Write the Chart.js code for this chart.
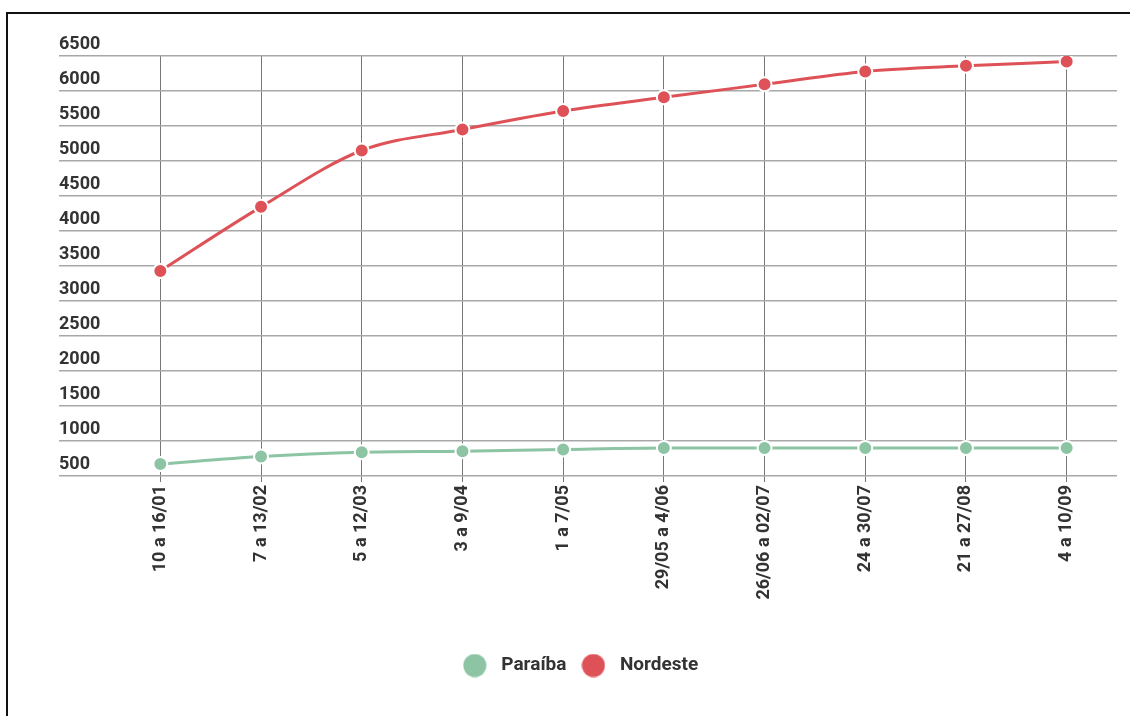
<!DOCTYPE html>
<html>
<head>
<meta charset="utf-8">
<script src="https://cdn.jsdelivr.net/npm/chart.js@4"></script>
<style>
  html, body { margin: 0; padding: 0; background: #fff; overflow: hidden; }
  #frame { position: absolute; left: 6px; top: 12px; width: 1300px; height: 900px; border: 2px solid #111; }
  #wrap { position: absolute; left: 0; top: 0; width: 1130px; height: 716px; }
</style>
</head>
<body>
<div id="frame"></div>
<div id="wrap"><canvas id="chart"></canvas></div>
<script>
// semanas
const weeks = ['10 a 16/01', '7 a 13/02', '5 a 12/03', '3 a 9/04', '1 a 7/05',
  '29/05 a 4/06', '26/06 a 02/07', '24 a 30/07', '21 a 27/08', '4 a 10/09'];

const paraiba = [670, 780, 840, 855, 880, 900, 900, 900, 900, 900];
const nordeste = [3430, 4345, 5150, 5450, 5715, 5910, 6095, 6280, 6360, 6420];

const yMin = 500, yMax = 6500, yStep = 500;

const green = '#8cc4a4';
const red = '#dd5157';
const textColor = '#333';

// round markers for the legend
function dot(color) {
  const c = document.createElement('canvas');
  c.width = 24; c.height = 24;
  const g = c.getContext('2d');
  g.fillStyle = color;
  g.beginPath();
  g.arc(12, 12, 11.5, 0, Math.PI * 2);
  g.fill();
  return c;
}
const legendDots = [dot(green), dot(red)];

// legend sits a bit left of the plot centre in the original
const legendShift = {
  id: 'legendShift',
  afterLayout: function(chart) {
    if (chart.legend) chart.legend.left -= 20;
  }
};

Chart.defaults.font.family = 'Roboto, "Noto Sans", sans-serif';

const ctx = document.getElementById('chart').getContext('2d');

new Chart(ctx, {
  type: 'line',
  data: {
    labels: weeks,
    datasets: [
      {
        label: 'Paraíba',
        data: paraiba,
        borderColor: green,
        backgroundColor: green,
        pointBackgroundColor: green,
        pointBorderColor: '#fff',
        pointBorderWidth: 2,
        pointRadius: 7,
        borderWidth: 3,
        cubicInterpolationMode: 'monotone'
      },
      {
        label: 'Nordeste',
        data: nordeste,
        borderColor: red,
        backgroundColor: red,
        pointBackgroundColor: red,
        pointBorderColor: '#fff',
        pointBorderWidth: 2,
        pointRadius: 7,
        borderWidth: 3,
        cubicInterpolationMode: 'monotone'
      }
    ]
  },
  plugins: [legendShift],
  options: {
    responsive: true,
    maintainAspectRatio: false,
    animation: false,
    layout: { padding: { left: 59, right: 13, top: 56, bottom: 31 } },
    plugins: {
      tooltip: { enabled: false },
      legend: {
        position: 'bottom',
        labels: {
          usePointStyle: true,
          pointStyleWidth: 34,
          color: textColor,
          font: { size: 19, weight: 'bold' },
          padding: 10,
          generateLabels: function(chart) {
            const items = Chart.defaults.plugins.legend.labels.generateLabels(chart);
            items.forEach(function(it, i) { it.pointStyle = legendDots[i]; });
            return items;
          }
        }
      }
    },
    scales: {
      x: {
        offset: true,
        border: { display: false },
        grid: { offset: false, color: '#777', lineWidth: 1, tickLength: 6 },
        ticks: {
          minRotation: 90,
          maxRotation: 90,
          padding: 3,
          color: textColor,
          font: { size: 18, weight: 'bold' }
        },
        afterFit: function(scale) {
          scale.height = 170;
          scale.paddingLeft = 0;
          scale.paddingRight = 0;
        }
      },
      y: {
        min: yMin,
        max: yMax,
        border: { display: false },
        grid: { color: '#a8a8a8', lineWidth: 1.5, tickLength: 51 },
        ticks: {
          stepSize: yStep,
          crossAlign: 'far',
          labelOffset: -12,
          padding: 0,
          color: textColor,
          font: { size: 18, weight: 'bold' },
          callback: function(v) { return String(v); }
        },
        afterFit: function(scale) {
          scale.width = 51;
          scale.paddingTop = 0;
          scale.paddingBottom = 0;
        }
      }
    }
  }
});
</script>
</body>
</html>
